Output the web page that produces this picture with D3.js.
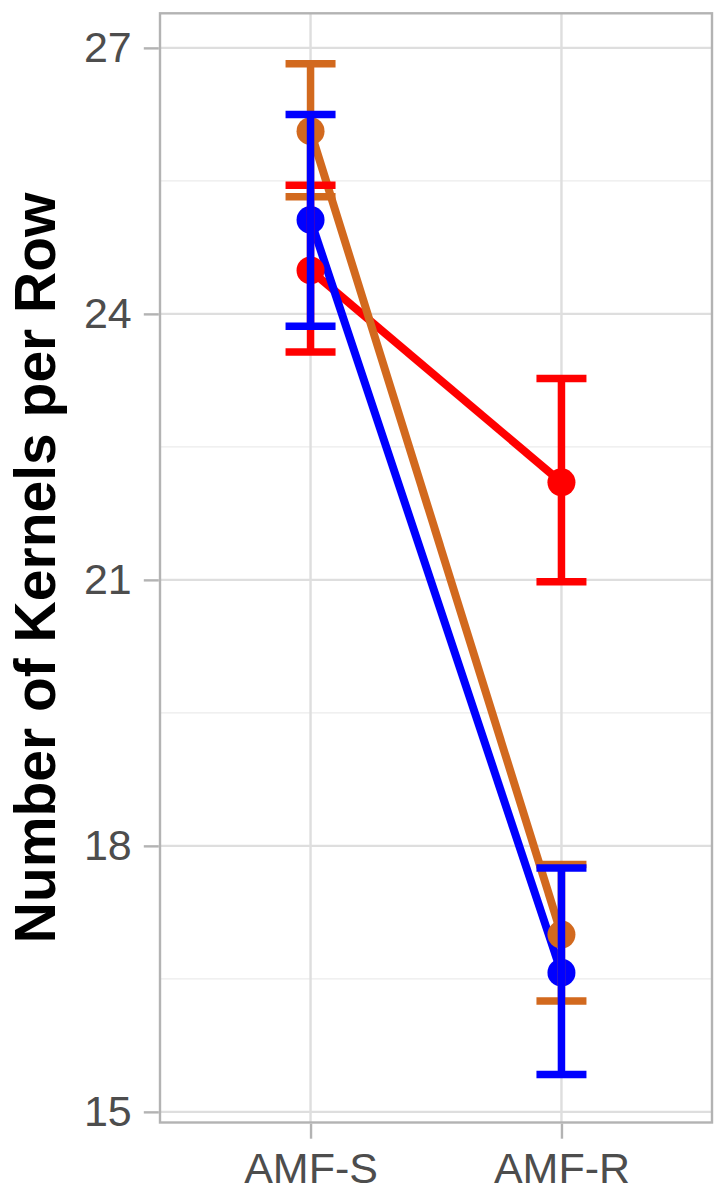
<!DOCTYPE html>
<html>
<head>
<meta charset="utf-8">
<script src="https://cdn.jsdelivr.net/npm/d3@7"></script>
<style>
  html, body { margin: 0; padding: 0; background: #fff; }
  svg { display: block; }
</style>
</head>
<body>
<svg id="chart" width="714" height="1192"></svg>
<script>
// ---- data ----
const categories = ["AMF-S", "AMF-R"];
const seriesNames = ["red", "orange", "blue"];
const redMean = [24.49, 22.10];
const redLower = [23.57, 20.98];
const redUpper = [25.45, 23.27];
const orangeMean = [26.06, 17.00];
const orangeLower = [25.32, 16.25];
const orangeUpper = [26.82, 17.79];
const blueMean = [25.06, 16.57];
const blueLower = [23.86, 15.42];
const blueUpper = [26.25, 17.75];
const yTicks = [15, 18, 21, 24, 27];
const yMinorTicks = [16.5, 19.5, 22.5, 25.5];
const yTitle = "Number of Kernels per Row";

const colors = { red: "#FF0000", orange: "#D2691E", blue: "#0000FF" };

const series = [
  { name: "red", mean: redMean, lower: redLower, upper: redUpper },
  { name: "orange", mean: orangeMean, lower: orangeLower, upper: orangeUpper },
  { name: "blue", mean: blueMean, lower: blueLower, upper: blueUpper }
];

// ---- layout ----
const panel = { left: 160, right: 712, top: 13.3, bottom: 1122.5 };
const svg = d3.select("#chart");

const x = d3.scalePoint()
  .domain(categories)
  .range([panel.left, panel.right])
  .padding(0.6);

const y = d3.scaleLinear()
  .domain([14.88, 27.39])
  .range([panel.bottom, panel.top]);

// grid
const grid = svg.append("g");
grid.selectAll("line.minor").data(yMinorTicks).join("line")
  .attr("x1", panel.left).attr("x2", panel.right)
  .attr("y1", d => y(d)).attr("y2", d => y(d))
  .attr("stroke", "#EBEBEB").attr("stroke-width", 1.3);
grid.selectAll("line.major").data(yTicks).join("line")
  .attr("x1", panel.left).attr("x2", panel.right)
  .attr("y1", d => y(d)).attr("y2", d => y(d))
  .attr("stroke", "#DEDEDE").attr("stroke-width", 2.4);
grid.selectAll("line.vmajor").data(categories).join("line")
  .attr("x1", d => x(d)).attr("x2", d => x(d))
  .attr("y1", panel.top).attr("y2", panel.bottom)
  .attr("stroke", "#DEDEDE").attr("stroke-width", 2.4);

// lines
const lineGen = d3.line().x(d => x(d.c)).y(d => y(d.v));
const plot = svg.append("g");
series.forEach(s => {
  const pts = categories.map((c, i) => ({ c, v: s.mean[i] }));
  plot.append("path")
    .attr("d", lineGen(pts))
    .attr("fill", "none")
    .attr("stroke", colors[s.name])
    .attr("stroke-width", 8);
});
// points
series.forEach(s => {
  plot.selectAll(null).data(categories.map((c, i) => ({ c, v: s.mean[i] }))).join("circle")
    .attr("cx", d => x(d.c)).attr("cy", d => y(d.v)).attr("r", 14)
    .attr("fill", colors[s.name]);
});
// error bars
const capHalf = 25;
series.forEach(s => {
  const eb = categories.map((c, i) => ({ c, lo: s.lower[i], hi: s.upper[i] }));
  const g = plot.append("g").attr("stroke", colors[s.name]).attr("stroke-width", 7.5);
  g.selectAll("line.v").data(eb).join("line")
    .attr("x1", d => x(d.c)).attr("x2", d => x(d.c))
    .attr("y1", d => y(d.lo)).attr("y2", d => y(d.hi));
  g.selectAll("line.t").data(eb).join("line")
    .attr("x1", d => x(d.c) - capHalf).attr("x2", d => x(d.c) + capHalf)
    .attr("y1", d => y(d.hi)).attr("y2", d => y(d.hi));
  g.selectAll("line.b").data(eb).join("line")
    .attr("x1", d => x(d.c) - capHalf).attr("x2", d => x(d.c) + capHalf)
    .attr("y1", d => y(d.lo)).attr("y2", d => y(d.lo));
});

// panel border
svg.append("rect")
  .attr("x", panel.left).attr("y", panel.top)
  .attr("width", panel.right - panel.left).attr("height", panel.bottom - panel.top)
  .attr("fill", "none").attr("stroke", "#B3B3B3").attr("stroke-width", 2.4);

// axes
const yAxis = d3.axisLeft(y).tickValues(yTicks).tickSize(15).tickPadding(12).tickFormat(d3.format("d"));
const yG = svg.append("g").attr("transform", `translate(${panel.left - 1.2},0)`).call(yAxis);
yG.select(".domain").remove();
yG.selectAll(".tick line").attr("stroke", "#B3B3B3").attr("stroke-width", 2.4);
yG.selectAll(".tick text")
  .attr("fill", "#4D4D4D")
  .style("font-family", "'Liberation Sans', Arial, sans-serif")
  .style("font-size", "43px");

const xAxis = d3.axisBottom(x).tickSize(15).tickPadding(14);
const xG = svg.append("g").attr("transform", `translate(0,${panel.bottom + 1.2})`).call(xAxis);
xG.select(".domain").remove();
xG.selectAll(".tick line").attr("stroke", "#B3B3B3").attr("stroke-width", 2.4);
xG.selectAll(".tick text")
  .attr("fill", "#4D4D4D")
  .style("font-family", "'Liberation Sans', Arial, sans-serif")
  .style("font-size", "43px");

// y title
svg.append("text")
  .attr("transform", `translate(55,${(panel.top + panel.bottom) / 2}) rotate(-90)`)
  .attr("text-anchor", "middle")
  .style("font-family", "'Liberation Sans', Arial, sans-serif")
  .style("font-weight", "bold")
  .style("font-size", "57px")
  .attr("fill", "#000")
  .text(yTitle);
</script>
</body>
</html>
